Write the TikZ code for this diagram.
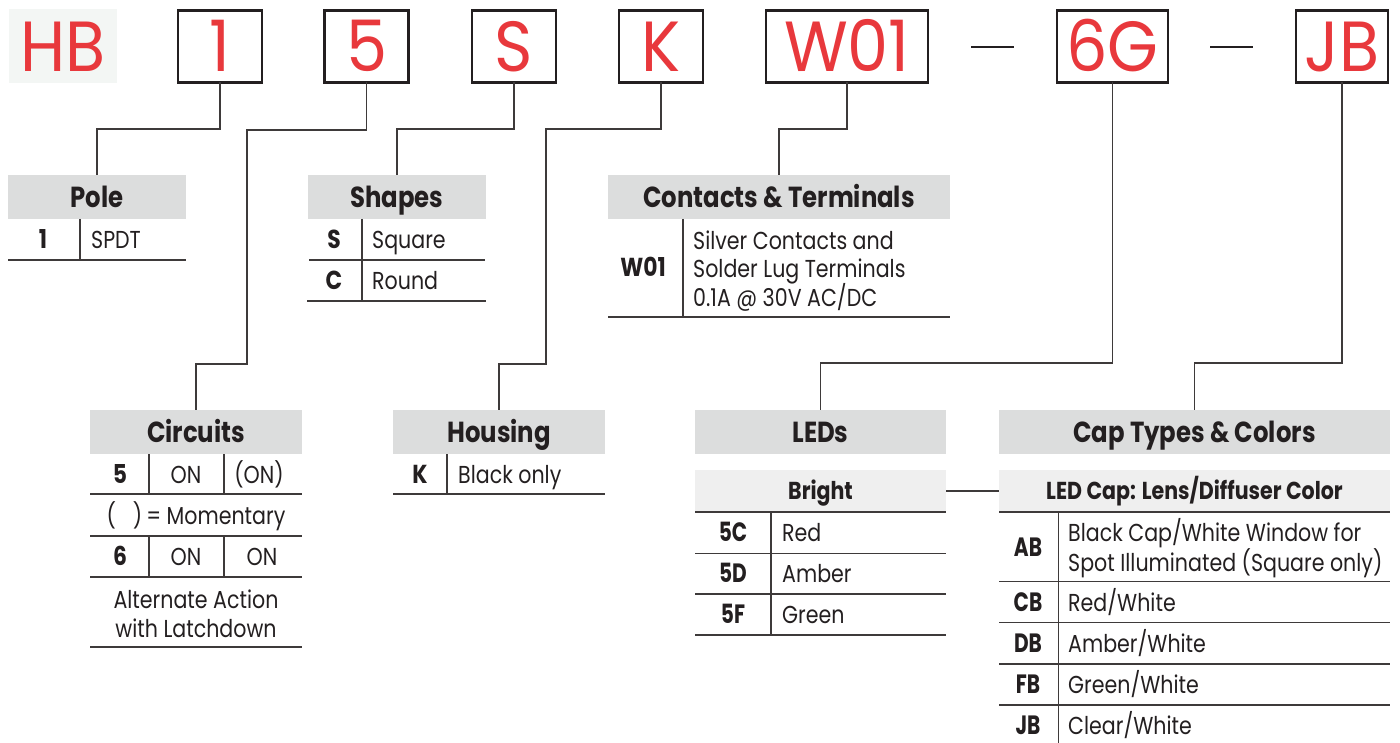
\documentclass[tikz,border=0pt]{standalone}
\usepackage{fontspec}
\setmainfont{Poppins}[FakeStretch=0.84]
\newfontfamily\topfont{Poppins}[FakeStretch=0.92]
\newfontfamily\cond{Poppins}[FakeStretch=0.76]
\definecolor{codered}{RGB}{232,56,60}
\definecolor{hdrgray}{RGB}{220,221,221}
\definecolor{subgray}{RGB}{239,239,239}
\definecolor{hbbg}{RGB}{243,246,244}
\definecolor{linecol}{RGB}{62,58,58}
\definecolor{boxblack}{RGB}{35,31,32}
\definecolor{textcol}{RGB}{35,31,32}
\begin{document}
\begin{tikzpicture}[x=1pt,y=-1pt,
  codebox/.style={draw=boxblack, line width=2.6pt, minimum width=#1, minimum height=72pt,
    inner sep=0pt, outer sep=0pt, text=codered, font=\topfont\fontsize{71}{71}\selectfont,
    text height=50pt, text depth=0pt},
  hbbox/.style={fill=hbbg, minimum width=108pt, minimum height=74pt, inner sep=0pt,
    text=codered, font=\topfont\fontsize{71}{71}\selectfont, text height=50pt, text depth=0pt},
  dashbar/.style={draw=boxblack, line width=2.6pt},
  hdr/.style={fill=hdrgray, minimum width=#1, minimum height=44pt, inner sep=0pt, outer sep=0pt,
    anchor=north west, text=textcol, font=\bfseries\fontsize{29}{29}\selectfont,
    text height=20.5pt, text depth=0pt},
  subhdr/.style={fill=subgray, minimum width=#1, minimum height=42pt, inner sep=0pt, outer sep=0pt,
    anchor=north west, text=textcol, font=\bfseries\fontsize{24.5}{25}\selectfont,
    text height=17pt, text depth=0pt},
  txt/.style={anchor=base west, inner sep=0pt, text=textcol, font=\fontsize{24.5}{28}\selectfont},
  ctr/.style={anchor=base, inner sep=0pt, text=textcol, font=\fontsize{24.5}{28}\selectfont},
  code/.style={anchor=base, inner sep=0pt, text=textcol, font=\bfseries\fontsize{26}{28}\selectfont},
  ccode/.style={anchor=base, inner sep=0pt, text=textcol, font=\cond\bfseries\fontsize{26.5}{28}\selectfont},
  rule/.style={draw=linecol, line width=1.4pt},
  conn/.style={draw=linecol, line width=1.4pt}
]
\useasboundingbox (0,0) rectangle (1400,743);

% ---------- top code row ----------
\node[hbbox] (hb) at (63,46.5) {HB};
\node[codebox=84] (b1) at (220,46.5) {1};
\node[codebox=84] (b5) at (366.7,46.5) {5};
\node[codebox=84] (bS) at (514,46.5) {S};
\node[codebox=84] (bK) at (661,46.5) {K};
\node[codebox=162] (bW) at (847,46.5) {W01};
\node[codebox=111] (bG) at (1112.5,46.5) {6G};
\node[codebox=92] (bJ) at (1342,46.5) {JB};
\draw[dashbar] (971,47) -- (1014,47);
\draw[dashbar] (1210,47) -- (1253,47);

% ---------- headers ----------
\node[hdr=178] (hPole) at (8,175) {Pole};
\node[hdr=178] (hShape) at (308,175) {Shapes};
\node[hdr=342] (hCont) at (608,175) {Contacts \& Terminals};
\node[hdr=212] (hCirc) at (90,410) {Circuits};
\node[hdr=212] (hHous) at (393,410) {Housing};
\node[hdr=251] (hLED) at (695,410) {LEDs};
\node[hdr=391] (hCap) at (999,410) {Cap Types \& Colors};

% ---------- connectors ----------
\coordinate (j5) at (247,364);
\coordinate (jK) at (546,364);
\draw[conn] (b1.south) |- (hPole.north |- 0,129) -- (hPole.north);
\draw[conn] (b5.south) |- (j5 |- 0,130) -- (j5) -| (hCirc.north);
\draw[conn] (bS.south) |- (hShape.north |- 0,129) -- (hShape.north);
\draw[conn] (bK.south) |- (jK |- 0,129) -- (jK) -| (hHous.north);
\draw[conn] (bW.south) |- (hCont.north |- 0,129) -- (hCont.north);
\draw[conn] (bG.south) |- (hLED.north |- 0,363) -- (hLED.north);
\draw[conn] (bJ.south) |- (hCap.north |- 0,363) -- (hCap.north);

% ---------- Pole ----------
\node[code] (p1) at (43,249) {1};
\node[txt] (pS) at (91,249) {SPDT};
\draw[rule] (80,219) -- (80,260);
\draw[rule] (8,260) -- (186,260);

% ---------- Shapes ----------
\node[code] (sS) at (334,249) {S};
\node[txt] (sSq) at (372,249) {Square};
\node[code] (sC) at (334,289.5) {C};
\node[txt] (sRd) at (372,289.5) {Round};
\draw[rule] (362,219) -- (362,301);
\draw[rule] (309,260) -- (485,260);
\draw[rule] (307,301) -- (486,301);

% ---------- Contacts ----------
\node[code] (cW) at (643,277) {W01};
\draw[rule] (683,219) -- (683,317);
\node[txt] (cL1) at (693,249.3) {Silver Contacts and};
\node[txt] (cL2) at (693,278) {Solder Lug Terminals};
\node[txt] (cL3) at (693,306.7) {0.1A @ 30V AC/DC};
\draw[rule] (608,317) -- (950,317);

% ---------- Circuits ----------
\node[code] (k5) at (120,483) {5};
\node[ctr] (k5a) at (186,483) {ON};
\node[ctr] (k5b) at (259,483) {(ON)};
\draw[rule] (149,454) -- (149,494);
\draw[rule] (224,454) -- (224,494);
\draw[rule] (90,494) -- (302,494);
\node[ctr] (kMom) at (196,524) {(\hspace{17pt})\,= Momentary};
\draw[rule] (90,536) -- (302,536);
\node[code] (k6) at (120,565) {6};
\node[ctr] (k6a) at (186,565) {ON};
\node[ctr] (k6b) at (262,565) {ON};
\draw[rule] (149,536) -- (149,577);
\draw[rule] (224,536) -- (224,577);
\draw[rule] (90,577) -- (302,577);
\node[ctr] (kAlt1) at (196,608) {Alternate Action};
\node[ctr] (kAlt2) at (196,637) {with Latchdown};
\draw[rule] (90,647) -- (302,647);

% ---------- Housing ----------
\node[code] (hK) at (420,483) {K};
\draw[rule] (447,454) -- (447,494);
\node[txt] (hBk) at (458,483) {Black only};
\draw[rule] (393,494) -- (605,494);

% ---------- LEDs ----------
\node[subhdr=251] (bright) at (695,470) {Bright};
\draw[rule, line width=1.8pt] (695,512) -- (946,512);
\node[ccode] (l5C) at (733,541.5) {5C};
\node[txt] (lRed) at (782,541.5) {Red};
\draw[rule] (695,553.3) -- (946,553.3);
\node[ccode] (l5D) at (733,582.5) {5D};
\node[txt] (lAmb) at (782,582.5) {Amber};
\draw[rule] (695,594) -- (946,594);
\node[ccode] (l5F) at (733,623.5) {5F};
\node[txt] (lGrn) at (782,623.5) {Green};
\draw[rule] (695,635) -- (946,635);
\draw[rule] (771,512) -- (771,635);

% ---------- Cap Types ----------
\node[subhdr=391] (ledcap) at (999,470) {LED Cap: Lens/Diffuser Color};
\draw[rule, line width=1.8pt] (999,512) -- (1390,512);
\draw[conn] (bright.east) -- (ledcap.west);
\node[ccode] (cAB) at (1028,556) {AB};
\node[txt] (cABa) at (1068,541.7) {Black Cap/White Window for};
\node[txt] (cABb) at (1068,571) {Spot Illuminated (Square only)};
\draw[rule] (999,581.7) -- (1390,581.7);
\node[ccode] (cCB) at (1028,611) {CB};
\node[txt] (cCBt) at (1068,611) {Red/White};
\draw[rule] (999,622.7) -- (1390,622.7);
\node[ccode] (cDB) at (1028,652) {DB};
\node[txt] (cDBt) at (1068,652) {Amber/White};
\draw[rule] (999,664) -- (1390,664);
\node[ccode] (cFB) at (1028,693) {FB};
\node[txt] (cFBt) at (1068,693) {Green/White};
\draw[rule] (999,705) -- (1390,705);
\node[ccode] (cJB) at (1028,734) {JB};
\node[txt] (cJBt) at (1068,734) {Clear/White};
\draw[rule] (1058.5,512) -- (1058.5,743);
\end{tikzpicture}
\end{document}
